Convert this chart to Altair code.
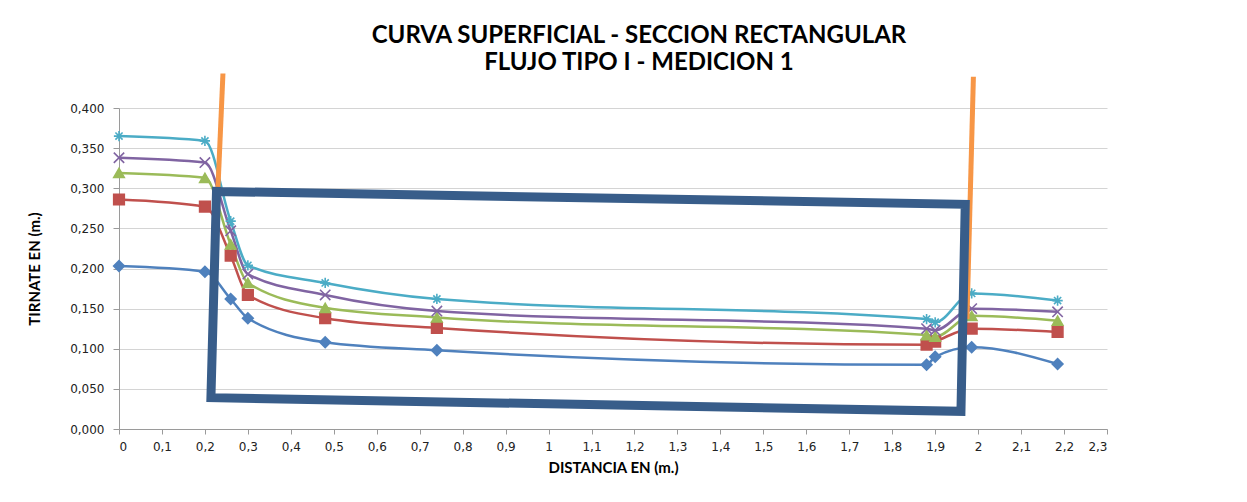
import altair as alt
import pandas as pd

# ---- data ----
distancia = [0, 0.2, 0.26, 0.3, 0.48, 0.74, 1.88, 1.9, 1.985, 2.185]
serie1 = [0.203, 0.196, 0.162, 0.138, 0.108, 0.098, 0.080, 0.090, 0.102, 0.081]
serie2 = [0.286, 0.277, 0.216, 0.167, 0.138, 0.126, 0.105, 0.109, 0.125, 0.121]
serie3 = [0.319, 0.313, 0.230, 0.182, 0.151, 0.139, 0.117, 0.115, 0.141, 0.135]
serie4 = [0.338, 0.332, 0.247, 0.193, 0.167, 0.147, 0.125, 0.123, 0.150, 0.146]
serie5 = [0.365, 0.359, 0.259, 0.204, 0.182, 0.162, 0.137, 0.133, 0.169, 0.160]
series_names = ["Serie1", "Serie2", "Serie3", "Serie4", "Serie5"]
series_colors = ["#4F81BD", "#C0504D", "#9BBB59", "#8064A2", "#4BACC6"]

# drawn annotations (gates and box), in data units
gate_id = ["izq", "izq", "der", "der"]
gate_x = [0.242, 0.214, 1.989, 1.974]
gate_y = [0.443, 0.100, 0.439, 0.137]

box_order = [0, 1, 2, 3, 4]
box_x = [0.227, 1.970, 1.960, 0.214, 0.227]
box_y = [0.296, 0.280, 0.022, 0.039, 0.296]

x_ticks = [0, 0.1, 0.2, 0.3, 0.4, 0.5, 0.6, 0.7, 0.8, 0.9, 1.0, 1.1, 1.2,
           1.3, 1.4, 1.5, 1.6, 1.7, 1.8, 1.9, 2.0, 2.1, 2.2, 2.3]
y_ticks = [0, 0.05, 0.1, 0.15, 0.2, 0.25, 0.3, 0.35, 0.4]

title_lines = ["CURVA SUPERFICIAL - SECCION RECTANGULAR", "FLUJO TIPO I - MEDICION 1"]

# ---- tables ----
rows = []
for name, vals in zip(series_names, [serie1, serie2, serie3, serie4, serie5]):
    for i, (x, y) in enumerate(zip(distancia, vals)):
        rows.append({"serie": name, "x": x, "y": y, "i": i})
df = pd.DataFrame(rows)
gates = pd.DataFrame({"id": gate_id, "x": gate_x, "y": gate_y})
box = pd.DataFrame({"o": box_order, "x": box_x, "y": box_y})

x_path = "M-1,-1L1,1M-1,1L1,-1"
ast_path = "M-1,0L1,0M0,-1L0,1M-0.7,-0.7L0.7,0.7M-0.7,0.7L0.7,-0.7"

xscale = alt.Scale(domain=[0, 2.3], nice=False, zero=False)
yscale = alt.Scale(domain=[0, 0.4], nice=False)
cscale = alt.Scale(domain=series_names, range=series_colors)

xaxis = alt.Axis(values=x_ticks, title="DISTANCIA EN (m.)",
                 labelExpr="replace(format(datum.value, '.1~f'), '.', ',')",
                 grid=False, tickSize=5, labelPadding=7, titlePadding=8,
                 domainColor="#9a9a9a", tickColor="#9a9a9a")
yaxis = alt.Axis(values=y_ticks, title="TIRNATE EN (m.)",
                 labelExpr="replace(format(datum.value, '.3f'), '.', ',')",
                 grid=True, gridColor="#d4d4d4", tickSize=6, labelPadding=9,
                 titlePadding=27, domainColor="#9a9a9a", tickColor="#9a9a9a")

base = alt.Chart(df)
lines = base.mark_line(interpolate="monotone", strokeWidth=2.5).encode(
    x=alt.X("x:Q", scale=xscale, axis=xaxis),
    y=alt.Y("y:Q", scale=yscale, axis=yaxis),
    color=alt.Color("serie:N", scale=cscale, legend=None),
    order="i:Q",
)
points = base.mark_point(filled=True, strokeWidth=1.6, opacity=1).encode(
    x="x:Q",
    y="y:Q",
    fill=alt.Fill("serie:N", scale=cscale, legend=None),
    stroke=alt.Stroke("serie:N", scale=cscale, legend=None),
    shape=alt.Shape("serie:N", scale=alt.Scale(domain=series_names,
                    range=["diamond", "square", "triangle-up", x_path, ast_path]),
                    legend=None),
    size=alt.Size("serie:N", scale=alt.Scale(domain=series_names,
                  range=[115, 105, 120, 110, 130]), legend=None),
)
gate_lines = alt.Chart(gates).mark_line(color="#F79646", strokeWidth=5, strokeCap="butt").encode(
    x="x:Q", y="y:Q", detail="id:N"
)
box_line = alt.Chart(box).mark_line(color="#385D8A", strokeWidth=9, strokeJoin="miter",
                                    strokeCap="square").encode(
    x="x:Q", y="y:Q", order="o:Q"
)

chart = alt.layer(lines, points, gate_lines, box_line).properties(
    width=988, height=321,
    autosize=alt.AutoSizeParams(type="none"),
    padding={"left": 111, "top": 100, "right": 120, "bottom": 60},
    title=alt.TitleParams(text=title_lines, font="Lato", fontSize=24, fontWeight="bold",
                          anchor="middle", dx=26, lineHeight=27, offset=-12, color="black"),
).configure_view(stroke=None).configure_axis(
    labelFont="DejaVu Sans", labelFontSize=12, labelColor="#222222",
    titleFont="Lato", titleFontSize=15, titleFontWeight="bold", titleColor="black",
)

chart.save("out.html", embed_options={"renderer": "svg", "actions": False})
